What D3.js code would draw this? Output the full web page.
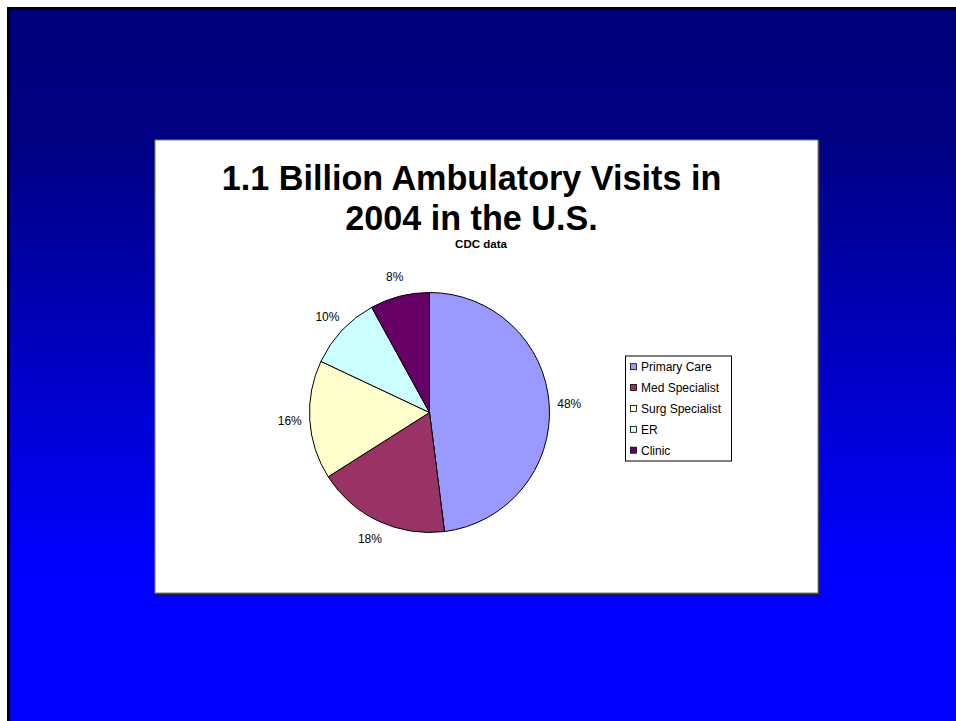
<!DOCTYPE html>
<html><head><meta charset="utf-8">
<script src="https://cdn.jsdelivr.net/npm/d3@7"></script>
<style>html,body{margin:0;padding:0;background:#fff;}svg{display:block;}</style>
</head><body>
<script>
const categories = ["Primary Care", "Med Specialist", "Surg Specialist", "ER", "Clinic"];
const values = [48, 18, 16, 10, 8];
const colors = ["#9999FF", "#993366", "#FFFFCC", "#CCFFFF", "#660066"];
const titleLines = ["1.1 Billion Ambulatory Visits in", "2004 in the U.S."];
const subtitle = "CDC data";

const W = 956, H = 721;
const svg = d3.select("body").append("svg").attr("width", W).attr("height", H);
const defs = svg.append("defs");
const grad = defs.append("linearGradient").attr("id", "bg").attr("x1", 0).attr("y1", 0).attr("x2", 0).attr("y2", 1);
grad.append("stop").attr("offset", "0%").attr("stop-color", "#00007C");
grad.append("stop").attr("offset", "18%").attr("stop-color", "#000082");
grad.append("stop").attr("offset", "78%").attr("stop-color", "#0000FF");
grad.append("stop").attr("offset", "100%").attr("stop-color", "#0000FF");

// slide background
svg.append("rect").attr("x", 7).attr("y", 7).attr("width", W - 7).attr("height", H - 7).attr("fill", "#000");
svg.append("rect").attr("x", 10).attr("y", 10).attr("width", W - 10).attr("height", H - 10).attr("fill", "url(#bg)");

// chart panel with shadow
const px = 155, py = 140, pw = 663, ph = 453;
svg.append("rect").attr("x", px + 1).attr("y", py + 1).attr("width", pw + 1).attr("height", ph + 1).attr("fill", "#222");
svg.append("rect").attr("x", px).attr("y", py).attr("width", pw).attr("height", ph)
  .attr("fill", "#fff").attr("stroke", "#808080").attr("stroke-width", 1);

const font = "Arial, 'Liberation Sans', Helvetica, sans-serif";
const tcx = 471.5;
svg.append("text").attr("x", tcx).attr("y", 190).attr("text-anchor", "middle")
  .attr("font-family", font).attr("font-weight", "bold").attr("font-size", 34.2).attr("fill", "#000").text(titleLines[0]);
svg.append("text").attr("x", tcx).attr("y", 230).attr("text-anchor", "middle")
  .attr("font-family", font).attr("font-weight", "bold").attr("font-size", 34.2).attr("fill", "#000").text(titleLines[1]);
svg.append("text").attr("x", 481).attr("y", 248).attr("text-anchor", "middle")
  .attr("font-family", font).attr("font-weight", "bold").attr("font-size", 11.5).attr("fill", "#000").text(subtitle);

// pie
const cx = 429.5, cy = 412.5, r = 120;
const pie = d3.pie().sort(null).value(d => d);
const arcs = pie(values);
const arc = d3.arc().innerRadius(0).outerRadius(r);
const g = svg.append("g").attr("transform", `translate(${cx},${cy})`);
g.selectAll("path").data(arcs).join("path")
  .attr("d", arc).attr("fill", (d, i) => colors[i])
  .attr("stroke", "#000").attr("stroke-width", 1).attr("stroke-linejoin", "round");

const labelArc = d3.arc().innerRadius(r + 20).outerRadius(r + 20);
g.selectAll("text").data(arcs).join("text")
  .attr("transform", d => { const c = labelArc.centroid(d); return `translate(${c[0]},${c[1] + 4})`; })
  .attr("text-anchor", "middle")
  .attr("font-family", font).attr("font-size", 12).attr("fill", "#000")
  .text(d => d.data + "%");

// legend
const lx = 625, ly = 355.5, lw = 106, lh = 105;
svg.append("rect").attr("x", lx + 0.5).attr("y", ly + 0.5).attr("width", lw).attr("height", lh)
  .attr("fill", "#fff").attr("stroke", "#000").attr("stroke-width", 1);
const rowY = d3.scalePoint().domain(categories).range([366.7, 450.2]);
const lg = svg.append("g");
categories.forEach((c, i) => {
  const y = rowY(c);
  lg.append("rect").attr("x", 630.5).attr("y", y - 3).attr("width", 6).attr("height", 6)
    .attr("fill", colors[i]).attr("stroke", "#000").attr("stroke-width", 0.8);
  lg.append("text").attr("x", 641).attr("y", y + 4.3)
    .attr("font-family", font).attr("font-size", 12).attr("fill", "#000").text(c);
});
</script>
</body></html>
